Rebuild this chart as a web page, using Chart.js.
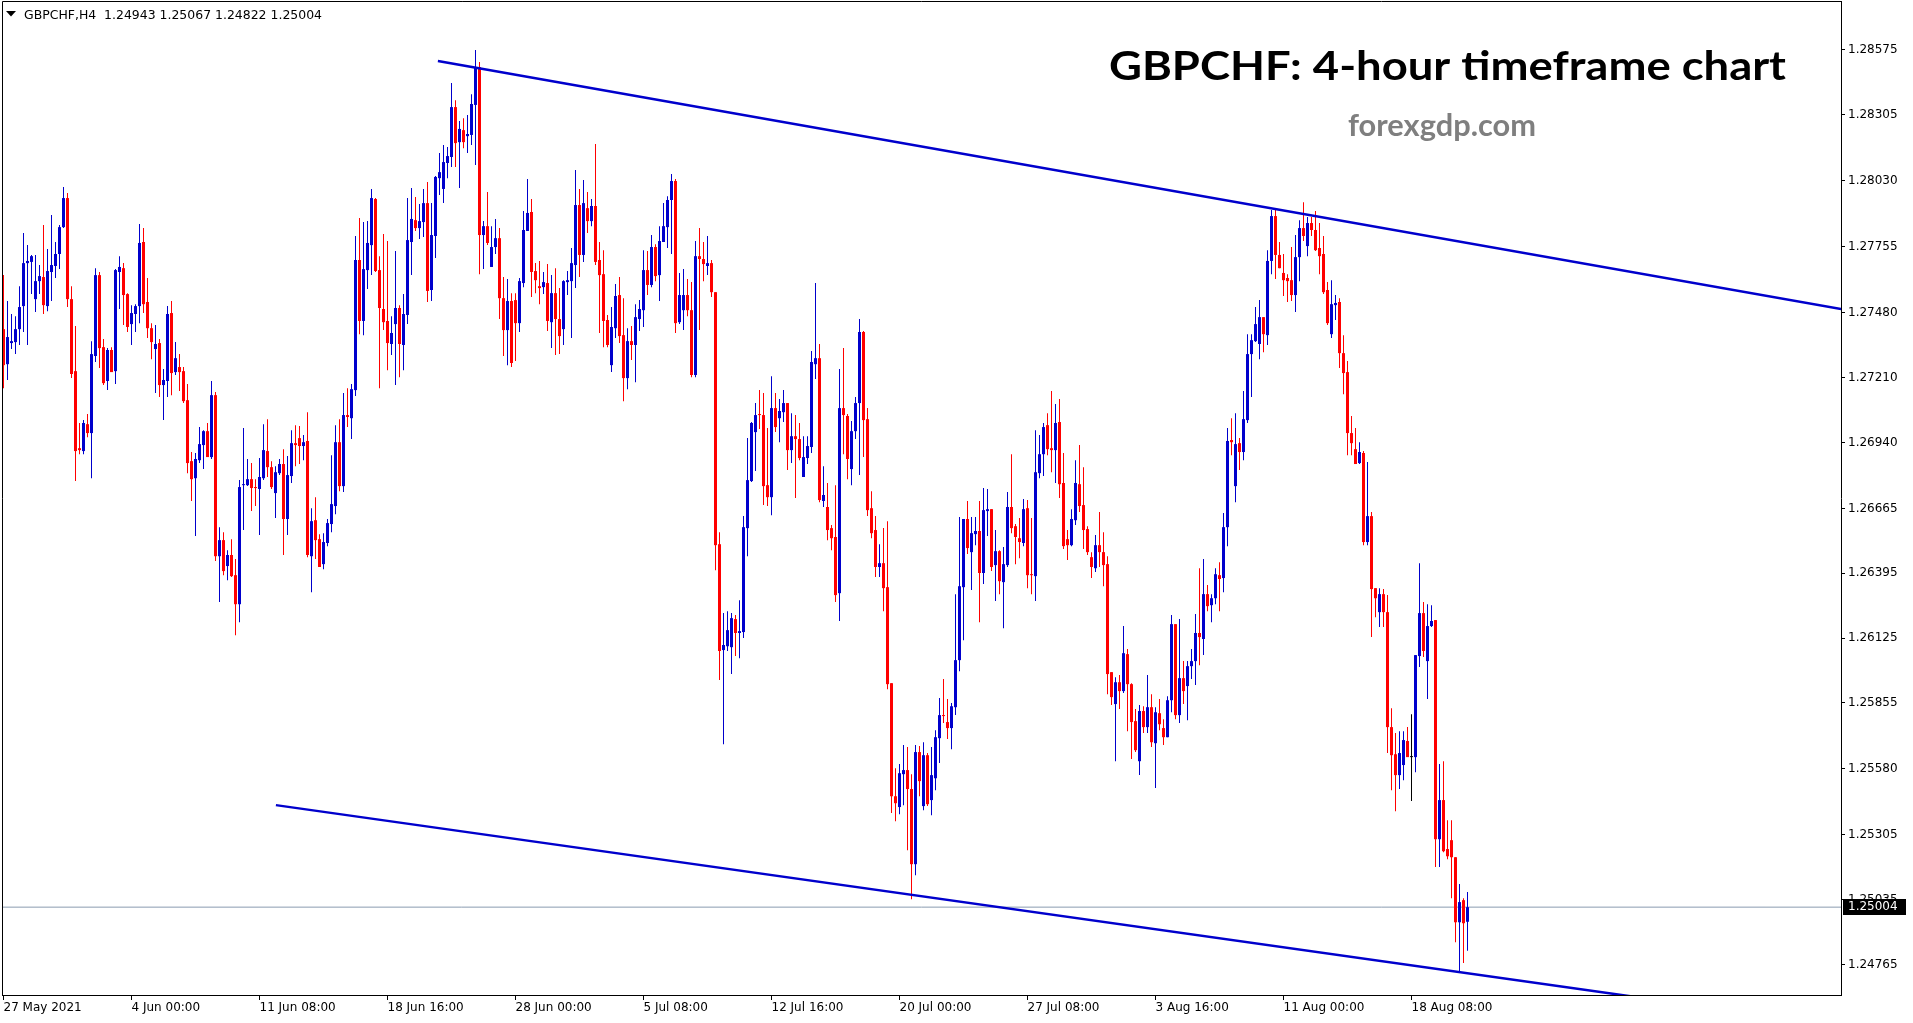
<!DOCTYPE html>
<html><head><meta charset="utf-8">
<script src="https://cdn.jsdelivr.net/npm/chart.js@4.4.0/dist/chart.umd.min.js"></script>
<style>html,body{margin:0;padding:0;background:#fff;overflow:hidden}canvas{display:block}</style>
</head><body>
<canvas id="c" width="1913" height="1023" style="width:1913px;height:1023px"></canvas>
<script>
const symbolHeader = "GBPCHF,H4  1.24943 1.25067 1.24822 1.25004";
const titleText = "GBPCHF: 4-hour timeframe chart";
const watermarkText = "forexgdp.com";
const tickLabels = ["27 May 2021","4 Jun 00:00","11 Jun 08:00","18 Jun 16:00","28 Jun 00:00","5 Jul 08:00","12 Jul 16:00","20 Jul 00:00","27 Jul 08:00","3 Aug 16:00","11 Aug 00:00","18 Aug 08:00"];
const tickBars = [0,32,64,96,128,160,192,224,256,288,320,352];
const yTicks = [1.28575,1.28305,1.28030,1.27755,1.27480,1.27210,1.26940,1.26665,1.26395,1.26125,1.25855,1.25580,1.25305,1.25035,1.24765];
const lastPrice = 1.25004;
const upperTrendBars = [108.6, 459.4];
const upperTrendPrices = [1.28529, 1.27496];
const lowerTrendBars = [68.1, 459.4];
const lowerTrendPrices = [1.25429, 1.24509];

const opens = [1.27412,1.27266,1.27354,1.27358,1.27412,1.27508,1.27687,1.27692,1.27537,1.27612,
1.27629,1.27508,1.27650,1.27675,1.27725,1.27837,1.27958,1.27537,1.27237,1.26916,
1.26904,1.27016,1.26979,1.27300,1.27637,1.27337,1.27196,1.27325,1.27237,1.27650,
1.27666,1.27558,1.27433,1.27475,1.27508,1.27775,1.27525,1.27416,1.27329,1.27354,
1.27179,1.27196,1.27479,1.27233,1.27254,1.27237,1.27116,1.26862,1.26791,1.26866,
1.26929,1.26987,1.26879,1.27137,1.26466,1.26533,1.26425,1.26471,1.26387,1.26266,
1.26762,1.26762,1.26787,1.26754,1.26746,1.26791,1.26904,1.26837,1.26729,1.26812,
1.26850,1.26621,1.26800,1.26937,1.26958,1.26925,1.26946,1.26466,1.26616,1.26537,
1.26433,1.26521,1.26600,1.26675,1.26941,1.26758,1.27054,1.27041,1.27158,1.27700,
1.27446,1.27658,1.27762,1.27954,1.27658,1.27496,1.27446,1.27350,1.27433,1.27500,
1.27346,1.27471,1.27775,1.27866,1.27833,1.27858,1.27937,1.27575,1.27800,1.28041,
1.27996,1.28104,1.28129,1.28337,1.28191,1.28241,1.28216,1.28221,1.28346,1.28504,
1.27804,1.27841,1.27671,1.27754,1.27791,1.27541,1.27408,1.27529,1.27533,1.27437,
1.27604,1.27821,1.27900,1.27654,1.27591,1.27587,1.27604,1.27441,1.27562,1.27454,
1.27412,1.27608,1.27612,1.27679,1.27929,1.27721,1.27916,1.27862,1.27925,1.27700,
1.27641,1.27450,1.27262,1.27416,1.27554,1.27387,1.27208,1.27362,1.27346,1.27454,
1.27491,1.27658,1.27596,1.27754,1.27637,1.27775,1.27837,1.27950,1.28029,1.27441,
1.27491,1.27554,1.27491,1.27221,1.27716,1.27704,1.27675,1.27687,1.27566,1.26516,
1.26075,1.26091,1.26087,1.26204,1.26146,1.26150,1.26583,1.26779,1.26983,1.27058,
1.27054,1.26762,1.26712,1.27083,1.27041,1.27066,1.27104,1.26908,1.26966,1.26954,
1.26796,1.26875,1.26921,1.27266,1.27291,1.26696,1.26671,1.26583,1.26546,1.26312,
1.27083,1.27050,1.26829,1.26987,1.27104,1.27400,1.27037,1.26666,1.26575,1.26421,
1.26437,1.26337,1.25937,1.25466,1.25421,1.25558,1.25575,1.25496,1.25183,1.25650,
1.25425,1.25637,1.25450,1.25541,1.25708,1.25804,1.25775,1.25750,1.25837,1.26033,
1.26337,1.26621,1.26483,1.26558,1.26571,1.26396,1.26654,1.26662,1.26429,1.26487,
1.26358,1.26429,1.26671,1.26591,1.26541,1.26521,1.26666,1.26391,1.26383,1.26812,
1.26891,1.27012,1.26916,1.26908,1.27025,1.26771,1.26537,1.26512,1.26616,1.26766,
1.26679,1.26579,1.26462,1.26416,1.26512,1.26483,1.26433,1.25983,1.25850,1.25941,
1.25904,1.26058,1.25933,1.25779,1.25612,1.25821,1.25754,1.25837,1.25687,1.25812,
1.25750,1.25712,1.25866,1.26183,1.25804,1.25958,1.25925,1.26008,1.26029,1.26146,
1.26121,1.26308,1.26262,1.26291,1.26387,1.26375,1.26587,1.26950,1.26758,1.26937,
1.26900,1.27033,1.27308,1.27362,1.27350,1.27462,1.27387,1.27696,1.27883,1.27721,
1.27646,1.27625,1.27616,1.27554,1.27712,1.27833,1.27758,1.27854,1.27825,1.27750,
1.27725,1.27575,1.27391,1.27512,1.27525,1.27312,1.27233,1.26979,1.26912,1.26854,
1.26896,1.26525,1.26633,1.26333,1.26233,1.26308,1.26233,1.25754,1.25641,1.25554,
1.25596,1.25696,1.25629,1.25629,1.26050,1.26229,1.26029,1.26175,1.26200,1.25287,
1.25450,1.25246,1.25283,1.25212,1.24941,1.25033,1.24943];

const highs = [1.27637,1.27529,1.27475,1.27466,1.27591,1.27812,1.27762,1.27721,1.27721,1.27679,
1.27846,1.27746,1.27887,1.27775,1.27846,1.28004,1.27979,1.27591,1.27425,1.27021,
1.27033,1.27058,1.27362,1.27666,1.27650,1.27371,1.27333,1.27337,1.27662,1.27716,
1.27687,1.27562,1.27512,1.27516,1.27850,1.27833,1.27625,1.27437,1.27429,1.27371,
1.27246,1.27508,1.27529,1.27358,1.27308,1.27254,1.27183,1.26900,1.26896,1.27004,
1.26991,1.27021,1.27196,1.27150,1.26587,1.26566,1.26491,1.26537,1.26454,1.26783,
1.27000,1.26871,1.26854,1.26787,1.26875,1.27016,1.27037,1.26862,1.26841,1.26871,
1.26912,1.26883,1.26991,1.27012,1.27008,1.26971,1.27066,1.26666,1.26712,1.26558,
1.26562,1.26621,1.26887,1.27012,1.27037,1.27146,1.27166,1.27183,1.27800,1.27875,
1.27858,1.27862,1.27996,1.27958,1.27716,1.27808,1.27779,1.27466,1.27737,1.27512,
1.27558,1.27958,1.28000,1.27962,1.27933,1.27996,1.28025,1.27937,1.28050,1.28146,
1.28179,1.28171,1.28437,1.28366,1.28279,1.28291,1.28304,1.28391,1.28575,1.28525,
1.27862,1.27983,1.27841,1.27871,1.27833,1.27629,1.27621,1.27562,1.27562,1.27625,
1.27904,1.28037,1.27954,1.27687,1.27696,1.27650,1.27683,1.27637,1.27666,1.27583,
1.27616,1.27654,1.27750,1.28075,1.27996,1.28033,1.27983,1.27954,1.28183,1.27775,
1.27741,1.27471,1.27504,1.27600,1.27629,1.27541,1.27416,1.27425,1.27516,1.27533,
1.27741,1.27737,1.27804,1.27766,1.27841,1.27937,1.27966,1.28058,1.28037,1.27646,
1.27662,1.27621,1.27608,1.27779,1.27833,1.27775,1.27800,1.27700,1.27566,1.26566,
1.26229,1.26237,1.26229,1.26221,1.26283,1.26633,1.26958,1.27025,1.27104,1.27158,
1.27146,1.27000,1.27216,1.27146,1.27121,1.27158,1.27104,1.27062,1.27054,1.27021,
1.26966,1.26966,1.27321,1.27604,1.27350,1.26841,1.26771,1.26596,1.26762,1.27246,
1.27333,1.27058,1.27029,1.27129,1.27454,1.27404,1.27083,1.26737,1.26633,1.26516,
1.26583,1.26612,1.25937,1.25583,1.25600,1.25679,1.25671,1.25558,1.25679,1.25675,
1.25691,1.25646,1.25671,1.25741,1.25875,1.25954,1.25871,1.25854,1.26308,1.26629,
1.26621,1.26696,1.26629,1.26629,1.26696,1.26750,1.26746,1.26662,1.26575,1.26491,
1.26504,1.26733,1.26891,1.26600,1.26625,1.26704,1.26700,1.26625,1.26991,1.26971,
1.27021,1.27062,1.27154,1.27100,1.27121,1.26896,1.26575,1.26662,1.26866,1.26929,
1.26837,1.26591,1.26483,1.26554,1.26650,1.26566,1.26466,1.25983,1.25962,1.25971,
1.26175,1.26079,1.25937,1.25829,1.25846,1.25841,1.25971,1.25891,1.25837,1.25871,
1.25787,1.25883,1.26221,1.26183,1.26204,1.26029,1.26029,1.26079,1.26225,1.26416,
1.26454,1.26346,1.26308,1.26416,1.26441,1.26646,1.27000,1.27041,1.27062,1.26958,
1.27154,1.27391,1.27391,1.27504,1.27533,1.27462,1.27741,1.27908,1.27908,1.27775,
1.27725,1.27641,1.27754,1.27804,1.27866,1.27941,1.27879,1.27879,1.27904,1.27854,
1.27800,1.27608,1.27616,1.27554,1.27541,1.27387,1.27279,1.27050,1.27000,1.26941,
1.26904,1.26858,1.26650,1.26333,1.26333,1.26329,1.26304,1.25833,1.25729,1.25737,
1.25737,1.25754,1.25808,1.26054,1.26437,1.26275,1.26266,1.26262,1.26200,1.25600,
1.25612,1.25366,1.25366,1.25212,1.25100,1.25041,1.25067];

const lows = [1.27166,1.27200,1.27329,1.27308,1.27346,1.27400,1.27346,1.27558,1.27483,1.27558,
1.27475,1.27487,1.27529,1.27625,1.27662,1.27833,1.27504,1.27208,1.26779,1.26891,
1.26891,1.26962,1.26791,1.27275,1.27250,1.27179,1.27158,1.27233,1.27183,1.27496,
1.27429,1.27400,1.27346,1.27400,1.27437,1.27479,1.27375,1.27287,1.27146,1.27129,
1.27033,1.27129,1.27137,1.27221,1.27154,1.27104,1.26812,1.26696,1.26550,1.26854,
1.26829,1.26879,1.26871,1.26446,1.26275,1.26387,1.26366,1.26379,1.26137,1.26191,
1.26575,1.26758,1.26654,1.26675,1.26554,1.26783,1.26796,1.26746,1.26625,1.26804,
1.26471,1.26554,1.26771,1.26841,1.26850,1.26866,1.26462,1.26316,1.26454,1.26421,
1.26412,1.26508,1.26566,1.26641,1.26737,1.26733,1.27004,1.26954,1.27133,1.27391,
1.27387,1.27579,1.27637,1.27650,1.27166,1.27408,1.27241,1.27304,1.27179,1.27212,
1.27241,1.27433,1.27637,1.27821,1.27787,1.27796,1.27525,1.27529,1.27708,1.27971,
1.27937,1.28041,1.28087,1.28087,1.28000,1.28166,1.28146,1.28179,1.28096,1.27641,
1.27662,1.27762,1.27671,1.27725,1.27454,1.27300,1.27262,1.27254,1.27279,1.27400,
1.27587,1.27821,1.27546,1.27562,1.27516,1.27558,1.27404,1.27333,1.27304,1.27308,
1.27346,1.27554,1.27375,1.27583,1.27629,1.27692,1.27812,1.27841,1.27679,1.27396,
1.27337,1.27337,1.27233,1.27375,1.27354,1.27112,1.27162,1.27283,1.27191,1.27404,
1.27421,1.27554,1.27587,1.27612,1.27529,1.27775,1.27750,1.27725,1.27396,1.27433,
1.27408,1.27466,1.27212,1.27212,1.27408,1.27612,1.27637,1.27546,1.26408,1.25950,
1.25683,1.26071,1.25975,1.26050,1.26041,1.26125,1.26466,1.26775,1.26821,1.26996,
1.26679,1.26675,1.26637,1.26983,1.26941,1.27025,1.26825,1.26854,1.26708,1.26866,
1.26796,1.26850,1.26896,1.27204,1.26691,1.26671,1.26533,1.26491,1.26275,1.26196,
1.26891,1.26787,1.26762,1.26954,1.26804,1.26879,1.26633,1.26541,1.26379,1.26379,
1.26237,1.25912,1.25396,1.25362,1.25391,1.25429,1.25241,1.25037,1.25137,1.25466,
1.25408,1.25425,1.25387,1.25491,1.25604,1.25771,1.25704,1.25662,1.25804,1.25987,
1.26116,1.26475,1.26325,1.26512,1.26191,1.26350,1.26550,1.26404,1.26279,1.26308,
1.26166,1.26421,1.26562,1.26433,1.26458,1.26508,1.26333,1.26308,1.26279,1.26791,
1.26800,1.26887,1.26816,1.26771,1.26708,1.26496,1.26450,1.26508,1.26596,1.26650,
1.26496,1.26471,1.26375,1.26400,1.26421,1.26341,1.25891,1.25846,1.25612,1.25829,
1.25896,1.25737,1.25621,1.25650,1.25554,1.25729,1.25729,1.25671,1.25500,1.25741,
1.25679,1.25712,1.25816,1.25787,1.25771,1.25850,1.25783,1.25954,1.25929,1.26012,
1.26054,1.26237,1.26191,1.26266,1.26237,1.26316,1.26508,1.26887,1.26691,1.26825,
1.26866,1.27021,1.27129,1.27358,1.27287,1.27316,1.27346,1.27641,1.27621,1.27666,
1.27550,1.27525,1.27529,1.27483,1.27612,1.27779,1.27716,1.27800,1.27737,1.27641,
1.27558,1.27429,1.27375,1.27450,1.27250,1.27141,1.26887,1.26887,1.26850,1.26850,
1.26512,1.26512,1.26129,1.26212,1.26171,1.26171,1.25646,1.25491,1.25404,1.25496,
1.25533,1.25629,1.25446,1.25566,1.26004,1.26046,1.25871,1.26171,1.25171,1.25171,
1.25233,1.25204,1.25041,1.24858,1.24733,1.24771,1.24822];

const closes = [1.27262,1.27379,1.27362,1.27412,1.27504,1.27687,1.27696,1.27716,1.27612,1.27633,
1.27512,1.27654,1.27679,1.27725,1.27837,1.27958,1.27537,1.27225,1.26904,1.26908,
1.27021,1.26979,1.27308,1.27637,1.27333,1.27187,1.27325,1.27233,1.27658,1.27671,
1.27554,1.27421,1.27479,1.27508,1.27771,1.27516,1.27416,1.27358,1.27350,1.27179,
1.27200,1.27475,1.27229,1.27291,1.27233,1.27112,1.26854,1.26787,1.26871,1.26933,
1.26987,1.26879,1.27137,1.26466,1.26533,1.26404,1.26471,1.26383,1.26266,1.26754,
1.26766,1.26787,1.26750,1.26750,1.26796,1.26908,1.26837,1.26754,1.26816,1.26850,
1.26621,1.26804,1.26937,1.26929,1.26925,1.26941,1.26471,1.26612,1.26533,1.26421,
1.26525,1.26604,1.26683,1.26941,1.26758,1.27054,1.27046,1.27162,1.27700,1.27446,
1.27662,1.27771,1.27958,1.27654,1.27500,1.27441,1.27354,1.27396,1.27500,1.27350,
1.27475,1.27783,1.27871,1.27833,1.27862,1.27937,1.27571,1.27804,1.28046,1.28066,
1.28108,1.28133,1.28337,1.28187,1.28246,1.28191,1.28225,1.28350,1.28504,1.27804,
1.27841,1.27771,1.27754,1.27791,1.27541,1.27408,1.27529,1.27271,1.27437,1.27612,
1.27825,1.27896,1.27650,1.27616,1.27583,1.27608,1.27446,1.27562,1.27454,1.27383,
1.27612,1.27616,1.27687,1.27929,1.27721,1.27937,1.27862,1.27925,1.27692,1.27637,
1.27446,1.27346,1.27421,1.27550,1.27383,1.27208,1.27362,1.27346,1.27462,1.27496,
1.27658,1.27596,1.27754,1.27633,1.27779,1.27841,1.27950,1.28029,1.27437,1.27554,
1.27554,1.27491,1.27221,1.27716,1.27704,1.27683,1.27687,1.27566,1.26512,1.26071,
1.26096,1.26158,1.26208,1.26146,1.26154,1.26587,1.26783,1.27021,1.27054,1.27054,
1.26758,1.26712,1.27083,1.27004,1.27071,1.27104,1.26908,1.26966,1.26954,1.26875,
1.26879,1.26925,1.27275,1.27291,1.26700,1.26721,1.26575,1.26541,1.26304,1.27083,
1.27054,1.26871,1.26987,1.27104,1.27400,1.27033,1.26658,1.26562,1.26421,1.26437,
1.26333,1.25933,1.25466,1.25437,1.25562,1.25575,1.25496,1.25183,1.25650,1.25529,
1.25637,1.25433,1.25554,1.25712,1.25804,1.25800,1.25750,1.25841,1.26033,1.26341,
1.26621,1.26500,1.26562,1.26571,1.26396,1.26658,1.26662,1.26421,1.26487,1.26362,
1.26433,1.26671,1.26583,1.26546,1.26525,1.26662,1.26387,1.26387,1.26816,1.26891,
1.27004,1.26912,1.26908,1.27021,1.26766,1.26508,1.26512,1.26621,1.26771,1.26675,
1.26575,1.26483,1.26421,1.26512,1.26483,1.26429,1.25975,1.25879,1.25941,1.25904,
1.26062,1.25933,1.25775,1.25658,1.25821,1.25754,1.25837,1.25691,1.25816,1.25766,
1.25712,1.25866,1.26183,1.25804,1.25958,1.25904,1.26008,1.26029,1.26146,1.26129,
1.26308,1.26258,1.26291,1.26391,1.26371,1.26587,1.26946,1.26941,1.26933,1.26900,
1.27037,1.27308,1.27366,1.27433,1.27462,1.27391,1.27696,1.27883,1.27721,1.27666,
1.27616,1.27612,1.27554,1.27712,1.27833,1.27800,1.27854,1.27825,1.27741,1.27716,
1.27566,1.27437,1.27516,1.27521,1.27312,1.27229,1.26979,1.26937,1.26850,1.26900,
1.26525,1.26633,1.26329,1.26291,1.26308,1.26233,1.25754,1.25637,1.25554,1.25646,
1.25700,1.25629,1.25629,1.26054,1.26229,1.26071,1.26175,1.26196,1.25287,1.25450,
1.25237,1.25216,1.25212,1.24941,1.25025,1.24937,1.25004];

const UP = '#0000CC', DOWN = '#FF0000', DOJI = '#000000';
const TREND = '#0000CC', PRICE_LINE = '#8A9BB0';

const barIdx = opens.map((_, i) => i);
const candleColors = barIdx.map(i => closes[i] > opens[i] ? UP : (closes[i] < opens[i] ? DOWN : DOJI));
const wickData = barIdx.map(i => ({x: i, y: [lows[i], highs[i]]}));
const bodyData = barIdx.map(i => ({x: i, y: [opens[i], closes[i]]}));
const upperData = upperTrendBars.map((b, i) => ({x: b, y: upperTrendPrices[i]}));
const lowerData = lowerTrendBars.map((b, i) => ({x: b, y: lowerTrendPrices[i]}));
const X_MIN = -0.375, X_MAX = 459.375;
const priceLineData = [{x: X_MIN, y: lastPrice}, {x: X_MAX, y: lastPrice}];

const framePlugin = {
  id: 'frame',
  afterDraw(chart) {
    const {ctx, chartArea: a} = chart;
    ctx.save();
    ctx.strokeStyle = '#000';
    ctx.lineWidth = 1;
    ctx.beginPath();
    ctx.moveTo(a.left + 0.5, a.bottom);
    ctx.lineTo(a.left + 0.5, a.top + 0.5);
    ctx.lineTo(a.right, a.top + 0.5);
    ctx.stroke();
    ctx.restore();
  }
};

function fitText(ctx, text, x, baseline, font, width, color) {
  ctx.save();
  ctx.font = font;
  ctx.fillStyle = color;
  ctx.textAlign = 'left';
  ctx.textBaseline = 'alphabetic';
  const w = ctx.measureText(text).width;
  ctx.translate(x, baseline);
  ctx.scale(width / w, 1);
  ctx.fillText(text, 0, 0);
  ctx.restore();
}

const textPlugin = {
  id: 'texts',
  afterDraw(chart) {
    const {ctx, chartArea: a} = chart;
    // header
    ctx.save();
    ctx.fillStyle = '#000';
    ctx.beginPath();
    ctx.moveTo(6, 11); ctx.lineTo(16, 11); ctx.lineTo(11, 16.5); ctx.closePath();
    ctx.fill();
    ctx.restore();
    fitText(ctx, symbolHeader, 24, 19, '12.5px "DejaVu Sans"', 298, '#000');
    // title + watermark
    fitText(ctx, titleText, 1109, 80, 'bold 41px Lato', 677, '#000');
    fitText(ctx, watermarkText, 1348, 136, 'bold 31px Lato', 188, '#7F7F7F');
    // current price box
    const py = chart.scales.y.getPixelForValue(lastPrice);
    ctx.save();
    ctx.fillStyle = '#000';
    ctx.fillRect(a.right + 2, Math.round(py) - 8, 63, 16);
    ctx.fillStyle = '#fff';
    ctx.font = '12px "DejaVu Sans"';
    ctx.textAlign = 'left';
    ctx.textBaseline = 'middle';
    ctx.fillText(lastPrice.toFixed(5), a.right + 7, Math.round(py));
    ctx.restore();
  }
};

new Chart(document.getElementById('c'), {
  type: 'bar',
  data: {
    datasets: [
      {type: 'line', data: priceLineData, borderColor: PRICE_LINE, borderWidth: 1, pointRadius: 0, order: 5},
      {type: 'bar', data: wickData, backgroundColor: candleColors, grouped: false, maxBarThickness: 1,
       categoryPercentage: 1, barPercentage: 1, inflateAmount: 0, borderWidth: 0, order: 4},
      {type: 'bar', data: bodyData, backgroundColor: candleColors, grouped: false, maxBarThickness: 3,
       categoryPercentage: 1, barPercentage: 1, inflateAmount: 0, borderWidth: 0, minBarLength: 1, order: 3},
      {type: 'line', data: upperData, borderColor: TREND, borderWidth: 2.5, pointRadius: 0, order: 1},
      {type: 'line', data: lowerData, borderColor: TREND, borderWidth: 2.5, pointRadius: 0, order: 1}
    ]
  },
  options: {
    animation: false,
    responsive: false,
    devicePixelRatio: 1,
    layout: {padding: {top: 1, left: 2, right: 0, bottom: 0}},
    plugins: {legend: {display: false}, tooltip: {enabled: false}},
    scales: {
      x: {
        type: 'linear', min: X_MIN, max: X_MAX, offset: false,
        grid: {drawOnChartArea: false, drawTicks: true, tickLength: 5, color: '#000', offset: false},
        border: {display: true, color: '#000', width: 1},
        ticks: {align: 'start', padding: 1, autoSkip: false, maxRotation: 0, color: '#000',
                font: {family: 'DejaVu Sans', size: 12},
                callback: (v, i) => tickLabels[i]},
        afterBuildTicks: (s) => { s.ticks = tickBars.map(v => ({value: v})); },
        afterFit: (s) => { s.height = 28; s.paddingLeft = 0; s.paddingRight = 0; }
      },
      y: {
        position: 'right', min: 1.24638, max: 1.28779, beginAtZero: false,
        grid: {drawOnChartArea: false, drawTicks: true, tickLength: 4, color: '#000'},
        border: {display: true, color: '#000', width: 1},
        ticks: {padding: 3, autoSkip: false, color: '#000', font: {family: 'DejaVu Sans', size: 12},
                callback: (v) => Number(v).toFixed(5)},
        afterBuildTicks: (s) => { s.ticks = yTicks.map(v => ({value: v})); },
        afterFit: (s) => { s.width = 72; s.paddingTop = 0; s.paddingBottom = 0; }
      }
    }
  },
  plugins: [framePlugin, textPlugin]
});
</script>
</body></html>
